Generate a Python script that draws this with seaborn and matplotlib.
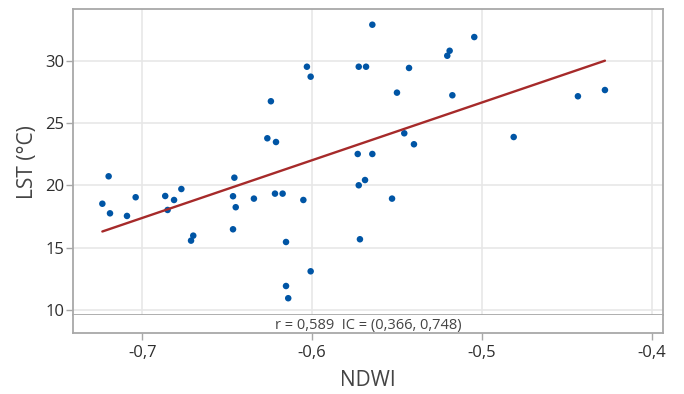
import matplotlib
matplotlib.use("Agg")
import matplotlib.pyplot as plt
from matplotlib.ticker import FuncFormatter
import pandas as pd
import seaborn as sns

# NDWI vs land surface temperature samples
ndwi = [-0.7235, -0.7198, -0.7190, -0.7090, -0.7039, -0.6865, -0.6851, -0.6813,
        -0.6770, -0.6713, -0.6700, -0.6466, -0.6458, -0.6450, -0.6466, -0.6343,
        -0.6264, -0.6243, -0.6219, -0.6213, -0.6174, -0.6154, -0.6154, -0.6141,
        -0.6052, -0.6031, -0.6009, -0.6009, -0.5732, -0.5726, -0.5726, -0.5719,
        -0.5689, -0.5683, -0.5646, -0.5646, -0.5530, -0.5501, -0.5458, -0.5430,
        -0.5401, -0.5205, -0.5191, -0.5175, -0.5046, -0.4814, -0.4436, -0.4277]
lst = [18.52, 20.72, 17.75, 17.54, 19.04, 19.14, 18.02, 18.82,
       19.70, 15.56, 15.96, 19.12, 20.61, 18.24, 16.47, 18.93,
       23.77, 26.74, 19.33, 23.47, 19.33, 15.45, 11.92, 10.94,
       18.82, 29.51, 28.71, 13.10, 22.51, 20.00, 29.51, 15.67,
       20.42, 29.51, 22.51, 32.88, 18.93, 27.43, 24.17, 29.41,
       23.29, 30.39, 30.79, 27.22, 31.89, 23.87, 27.14, 27.64]

x_ticks = [-0.7, -0.6, -0.5, -0.4]
y_ticks = [10, 15, 20, 25, 30]
stats_label = "r = 0,589  IC = (0,366, 0,748)"

sns.set_theme(style="white")
plt.rcParams["font.family"] = ["Open Sans", "DejaVu Sans"]

point_color = "#0055a5"
line_color = "#a62a2a"
frame_color = "#a8a8a8"
grid_color = "#e6e6e6"
text_color = "#2e2e2e"
label_color = "#444444"

W, H = 684, 394
left, right, top, split, bottom = 73.3, 662.7, 9.0, 315.3, 332.7

fig = plt.figure(figsize=(W / 100, H / 100), dpi=100)
ax = fig.add_axes([left / W, 1 - split / H, (right - left) / W, (split - top) / H])
band = fig.add_axes([left / W, 1 - bottom / H, (right - left) / W, (bottom - split) / H],
                    sharex=ax)

df = pd.DataFrame({"NDWI": ndwi, "LST": lst})
sns.regplot(data=df, x="NDWI", y="LST", ax=ax, ci=None,
            scatter_kws=dict(s=22, color=point_color, edgecolor="none", alpha=1, zorder=3),
            line_kws=dict(color=line_color, lw=1.7, zorder=4))

comma = FuncFormatter(lambda v, _: f"{v:.1f}".replace(".", ","))

ax.set_xlim(-0.7406, -0.3937)
ax.set_ylim(9.57, 34.14)
ax.set_xticks(x_ticks)
ax.set_yticks(y_ticks)
ax.xaxis.set_major_formatter(comma)
ax.grid(True, color=grid_color, lw=1.1, zorder=0)
ax.set_axisbelow(True)
ax.tick_params(axis="x", bottom=False, labelbottom=False)
ax.tick_params(axis="y", left=True, length=5, width=1, color=frame_color,
               labelsize=12, labelcolor=text_color, pad=1.5)
ax.set_xlabel("")
ax.set_ylabel("LST (°C)", fontsize=15, color=label_color, labelpad=5)
for s in ax.spines.values():
    s.set_color(frame_color)
    s.set_linewidth(1.3)

band.set_yticks([])
band.set_ylim(0, 1)
band.grid(False)
band.tick_params(axis="x", bottom=True, length=5, width=1, color=frame_color,
                 labelsize=12, labelcolor=text_color, pad=4)
band.spines["top"].set_visible(False)
for name in ("left", "right", "bottom"):
    band.spines[name].set_color(frame_color)
    band.spines[name].set_linewidth(1.3)
band.text(0.5, -0.02, stats_label, transform=band.transAxes, ha="center", va="bottom",
          fontsize=10.5, color=label_color)
band.set_xlabel("NDWI", fontsize=15, color=label_color, labelpad=6)

fig.savefig("out.png", dpi=100)
